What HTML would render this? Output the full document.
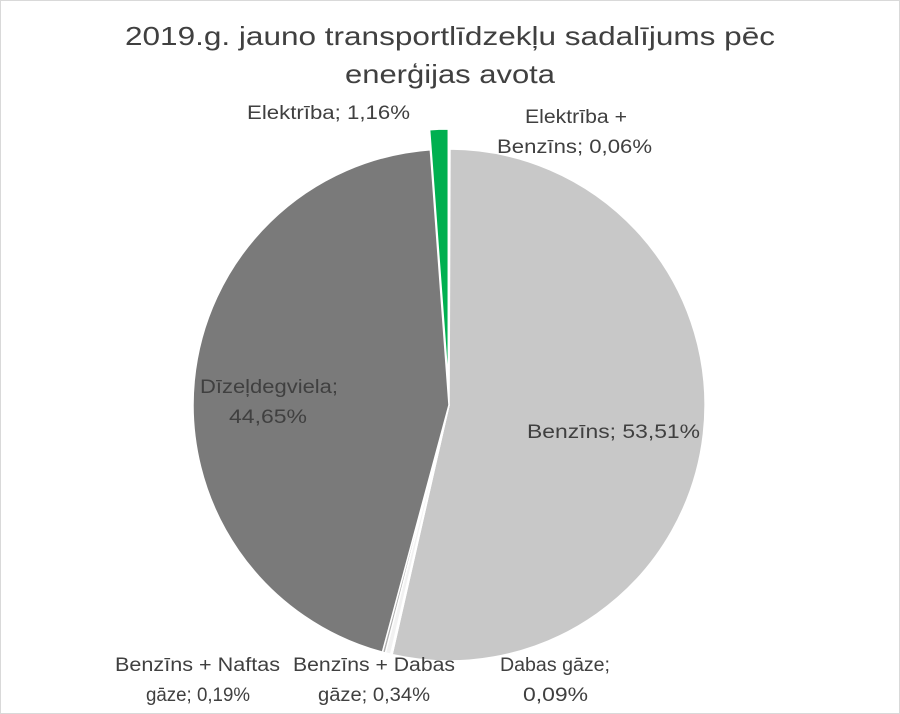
<!DOCTYPE html>
<html><head><meta charset="utf-8"><style>
html,body{margin:0;padding:0;background:#fff}
svg{display:block}
text{font-family:"Liberation Sans",sans-serif;fill:#404040}
</style></head><body>
<svg width="900" height="714" viewBox="0 0 900 714" xmlns="http://www.w3.org/2000/svg">
<rect x="0.5" y="0.5" width="899" height="713" fill="#fff" stroke="#d9d9d9"/>
<text x="450" y="45" font-size="26" text-anchor="middle" textLength="650" lengthAdjust="spacingAndGlyphs">2019.g. jauno transportlīdzekļu sadalījums pēc</text>
<text x="450" y="83" font-size="26" text-anchor="middle" textLength="210" lengthAdjust="spacingAndGlyphs">enerģijas avota</text>
<g stroke="#fff" stroke-width="1.5" stroke-linejoin="round">
<path d="M449,405 L449,149 A256,256 0 0 1 449.97,149 Z" fill="#dcdcdc"/>
<path d="M449,405 L449.97,149 A256,256 0 1 1 392.06,654.57 Z" fill="#c8c8c8"/>
<path d="M449,405 L392.06,654.57 A256,256 0 0 1 390.68,654.27 Z" fill="#e8e8e8"/>
<path d="M449,405 L390.68,654.27 A256,256 0 0 1 385.33,652.96 Z" fill="#f2f2f2"/>
<path d="M449,405 L385.33,652.96 A256,256 0 0 1 382.39,652.19 Z" fill="#b0b0b0"/>
<path d="M449,405 L382.39,652.19 A256,256 0 0 1 430.34,149.69 Z" fill="#7a7a7a"/>
<path d="M448.3,385 L429.6,129.7 A256,256 0 0 1 448.3,129 Z" fill="#00b050"/>
</g>
<g font-size="19" lengthAdjust="spacingAndGlyphs">
<text x="247" y="119" textLength="163" lengthAdjust="spacingAndGlyphs">Elektrība; 1,16%</text>
<text x="525" y="123" textLength="102" lengthAdjust="spacingAndGlyphs">Elektrība +</text>
<text x="497" y="153" textLength="155" lengthAdjust="spacingAndGlyphs">Benzīns; 0,06%</text>
<text x="200" y="393" textLength="138" lengthAdjust="spacingAndGlyphs">Dīzeļdegviela;</text>
<text x="229" y="423" textLength="78" lengthAdjust="spacingAndGlyphs">44,65%</text>
<text x="527" y="438" textLength="173" lengthAdjust="spacingAndGlyphs">Benzīns; 53,51%</text>
<text x="115" y="671" textLength="165" lengthAdjust="spacingAndGlyphs">Benzīns + Naftas</text>
<text x="146" y="701" textLength="104" lengthAdjust="spacingAndGlyphs">gāze; 0,19%</text>
<text x="293" y="671" textLength="162" lengthAdjust="spacingAndGlyphs">Benzīns + Dabas</text>
<text x="318" y="701" textLength="112" lengthAdjust="spacingAndGlyphs">gāze; 0,34%</text>
<text x="500" y="671" textLength="110" lengthAdjust="spacingAndGlyphs">Dabas gāze;</text>
<text x="523" y="701" textLength="65" lengthAdjust="spacingAndGlyphs">0,09%</text>
</g>
</svg>
</body></html>
